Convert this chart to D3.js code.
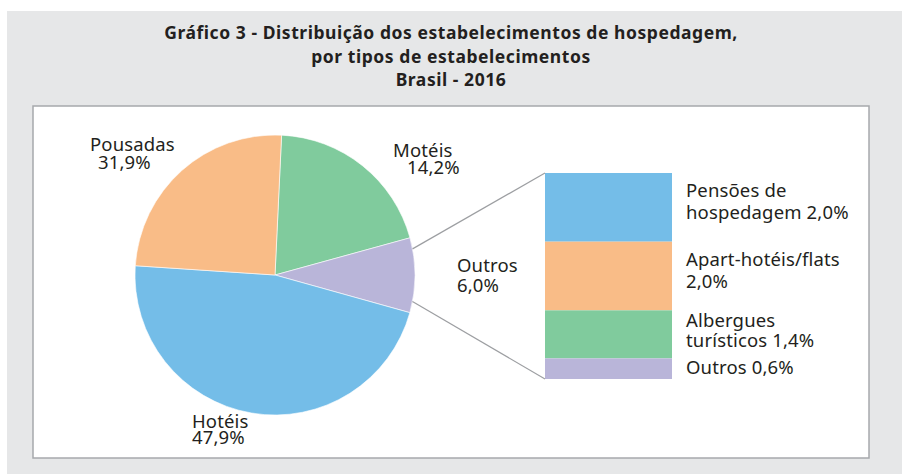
<!DOCTYPE html>
<html>
<head>
<meta charset="utf-8">
<script src="https://cdn.jsdelivr.net/npm/d3@7"></script>
<style>
  html, body { margin: 0; padding: 0; background: #fff; }
  text { font-family: "Noto Sans", sans-serif; fill: #231f20; }
</style>
</head>
<body>
<div id="chart"></div>
<script>
// pie categories, in drawing order (clockwise from the top)
const categories = ['Motéis', 'Outros', 'Hotéis', 'Pousadas'];
const pctLabels = ['14,2%', '6,0%', '47,9%', '31,9%'];
// slice sizes as they are drawn in the picture (degrees of arc)
const sliceValues = [71.9, 31.0, 168.2, 88.9];
const sliceColors = ['#80cb9d', '#b9b5d9', '#74bde8', '#f9bc87'];

// breakdown of "Outros" shown as a stacked bar
const subCategories = ['Pensões de hospedagem', 'Apart-hotéis/flats', 'Albergues turísticos', 'Outros'];
const subValues = [2.0, 2.0, 1.4, 0.6];
const subColors = ['#74bde8', '#f9bc87', '#80cb9d', '#b9b5d9'];
const subLabelLines = [
  ['Pensões de', 'hospedagem 2,0%'],
  ['Apart-hotéis/flats', '2,0%'],
  ['Albergues', 'turísticos 1,4%'],
  ['Outros 0,6%']
];

const titleLines = [
  'Gráfico 3 - Distribuição dos estabelecimentos de hospedagem,',
  'por tipos de estabelecimentos',
  'Brasil - 2016'
];

const width = 902, height = 474;
const cx = 275, cy = 275, radius = 140;

// hand placed label anchors, like in the original layout
const pieLabelPos = {
  'Motéis':   [[393, 157], [407, 174]],
  'Outros':   [[457, 272], [457, 292]],
  'Hotéis':   [[192, 428], [192, 444]],
  'Pousadas': [[90, 151], [98, 169]]
};
const subLabelBaselines = [[197, 219], [266, 288], [327, 347], [374]];

const svg = d3.select('#chart').append('svg')
  .attr('width', width)
  .attr('height', height);

svg.append('rect')
  .attr('x', 7).attr('y', 11)
  .attr('width', width - 7).attr('height', height - 11)
  .attr('fill', '#e6e7e8');

svg.append('rect')
  .attr('x', 33).attr('y', 106)
  .attr('width', 836).attr('height', 352)
  .attr('fill', '#fff')
  .attr('stroke', '#a7a9ac')
  .attr('stroke-width', 1.5);

svg.selectAll('.title')
  .data(titleLines)
  .enter()
  .append('text')
  .attr('class', 'title')
  .attr('x', 451)
  .attr('y', (d, i) => 39 + i * 23.5)
  .attr('text-anchor', 'middle')
  .style('font-size', '17.5px')
  .style('letter-spacing', '0.55px')
  .style('font-weight', 'bold')
  .text(d => d);

// pie
const pie = d3.pie()
  .sort(null)
  .value(d => d.v)
  .startAngle(2.7 * Math.PI / 180)
  .endAngle(2.7 * Math.PI / 180 + 2 * Math.PI);

const arcs = pie(categories.map((c, i) => ({ c, v: sliceValues[i], i })));
const arc = d3.arc().innerRadius(0).outerRadius(radius);

const g = svg.append('g').attr('transform', `translate(${cx},${cy})`);
g.selectAll('path')
  .data(arcs)
  .enter()
  .append('path')
  .attr('d', arc)
  .attr('fill', d => sliceColors[d.data.i])
  .attr('stroke', '#fff')
  .attr('stroke-width', 0.6);

categories.forEach((c, i) => {
  const pos = pieLabelPos[c];
  [c, pctLabels[i]].forEach((t, j) => {
    svg.append('text')
      .attr('x', pos[j][0])
      .attr('y', pos[j][1])
      .style('font-size', '18.5px')
      .style('letter-spacing', '0.15px')
      .text(t);
  });
});

// stacked bar for the breakdown
const barX0 = 545, barX1 = 672;
const y = d3.scaleLinear()
  .domain([0, d3.sum(subValues)])
  .range([173, 379]);
const cum = d3.cumsum([0].concat(subValues));

svg.selectAll('.seg')
  .data(subValues)
  .enter()
  .append('rect')
  .attr('class', 'seg')
  .attr('x', barX0)
  .attr('width', barX1 - barX0)
  .attr('y', (d, i) => y(cum[i]))
  .attr('height', (d, i) => y(cum[i + 1]) - y(cum[i]))
  .attr('fill', (d, i) => subColors[i]);

subLabelLines.forEach((lines, i) => {
  lines.forEach((t, j) => {
    svg.append('text')
      .attr('x', 686)
      .attr('y', subLabelBaselines[i][j])
      .style('font-size', '18.5px')
      .style('letter-spacing', '0.15px')
      .text(t);
  });
});

// connector lines from the "Outros" slice to the bar
const outros = arcs[categories.indexOf('Outros')];
const span = outros.endAngle - outros.startAngle;
const a0 = outros.startAngle + span * 0.15;
const a1 = outros.endAngle - span * 0.15;
const onCircle = a => [cx + radius * Math.sin(a), cy - radius * Math.cos(a)];
[[onCircle(a0), [barX0, y(0)]], [onCircle(a1), [barX0, y(d3.sum(subValues))]]].forEach(seg => {
  svg.append('line')
    .attr('x1', seg[0][0]).attr('y1', seg[0][1])
    .attr('x2', seg[1][0]).attr('y2', seg[1][1])
    .attr('stroke', '#9d9fa2')
    .attr('stroke-width', 1.2);
});
</script>
</body>
</html>
